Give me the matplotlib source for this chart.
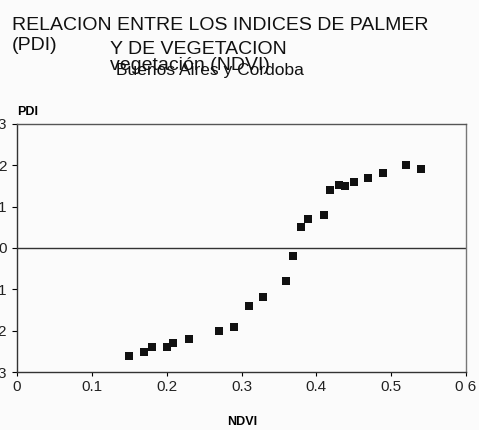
import numpy as np
import matplotlib.pyplot as plt

plt.rcParams['font.family'] = ['Liberation Sans', 'DejaVu Sans']

# data
ndvi = [0.150, 0.170, 0.180, 0.200, 0.209, 0.230, 0.270, 0.290, 0.310,
        0.329, 0.360, 0.369, 0.379, 0.389, 0.410, 0.418, 0.430, 0.438,
        0.450, 0.469, 0.489, 0.520, 0.540]
pdi = [-2.61, -2.51, -2.40, -2.40, -2.31, -2.20, -2.01, -1.91, -1.40,
       -1.19, -0.80, -0.19, 0.50, 0.70, 0.80, 1.40, 1.52, 1.50,
       1.60, 1.70, 1.82, 2.02, 1.91]
xticks = [0, 0.1, 0.2, 0.3, 0.4, 0.5, 0.6]
xticklabels = ['0', '0.1', '0.2', '0.3', '0.4', '0.5', '0 6']
yticks = [-3, -2, -1, 0, 1, 2, 3]
yticklabels = ['-3', '-2', '-1', '0', '1', '2', '3']

fig = plt.figure(figsize=(4.79, 4.30), dpi=100)
fig.patch.set_facecolor('#fbfbfb')
ax = fig.add_axes([17/479, 58/430, 449/479, 248/430])
ax.set_facecolor('#fbfbfb')

ax.scatter(ndvi, pdi, marker='s', s=30, color='#111111', linewidths=0)
ax.axhline(0, color='#333333', lw=1.0)

ax.set_xlim(0, 0.6)
ax.set_ylim(-3, 3)
ax.set_xticks(xticks)
ax.set_xticklabels(xticklabels, fontsize=11, color='#222222')
ax.set_yticks(yticks)
ax.set_yticklabels(yticklabels, fontsize=11, color='#222222')
ax.tick_params(axis='x', direction='out', length=3, width=0.8, pad=3)
ax.tick_params(axis='y', direction='out', length=3.6, width=0.8, pad=4)

ax.spines['left'].set_color('#333333')
ax.spines['bottom'].set_color('#333333')
ax.spines['top'].set_color('#555555')
ax.spines['right'].set_color('#777777')
for s in ax.spines.values():
    s.set_linewidth(1.0)

# titles
fig.text(12/479, 1 - 25/430, 'RELACION ENTRE LOS INDICES DE PALMER',
         fontsize=14, va='center', ha='left', color='#111111')
fig.text(12/479, 1 - 46/430, '(PDI)', fontsize=14, va='center', ha='left', color='#111111')
fig.text(110/479, 1 - 50/430, 'Y DE VEGETACION', fontsize=14, va='center', ha='left', color='#111111')
fig.text(110/479, 1 - 65/430, 'vegetación (NDVI)', fontsize=14, va='center', ha='left', color='#111111')
fig.text(116/479, 1 - 70/430, 'Buenos Aires y Cordoba', fontsize=12.5, va='center', ha='left', color='#111111')

fig.text(17/479, 1 - 112/430, 'PDI', fontsize=9, fontweight='bold', va='center', ha='left')
fig.text(242/479, 1 - 422/430, 'NDVI', fontsize=9, fontweight='bold', va='center', ha='center')

fig.savefig('out.png', dpi=100, facecolor=fig.get_facecolor())
